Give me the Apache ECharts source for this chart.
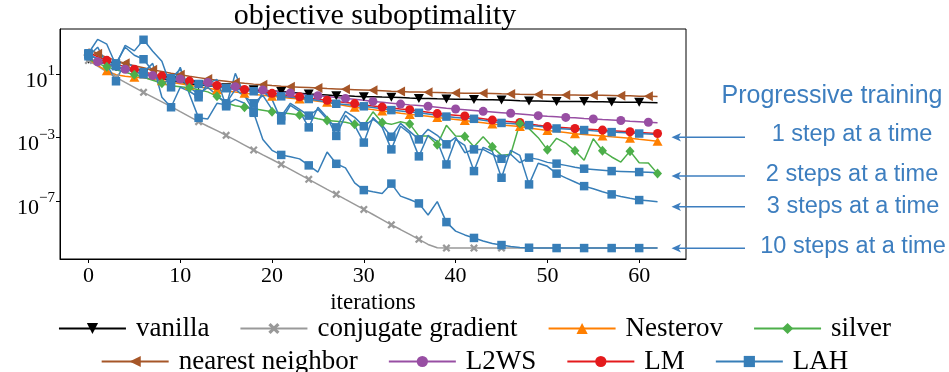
<!DOCTYPE html>
<html>
<head>
<meta charset="utf-8">
<script src="https://cdn.jsdelivr.net/npm/echarts@6/dist/echarts.min.js"></script>
<style>
html, body { margin: 0; padding: 0; background: #fff; }
#chart { width: 949px; height: 372px; }
</style>
</head>
<body>
<div id="chart"></div>
<script>
// log10 of the objective suboptimality, one value per iteration 0..62
const vanilla = [1.95,1.79,1.63,1.47,1.32,1.17,1.03,0.87,0.73,0.59,
  0.49,0.41,0.34,0.27,0.21,0.15,0.10,0.06,0.02,-0.02,
  -0.06,-0.09,-0.14,-0.19,-0.24,-0.28,-0.31,-0.35,-0.36,-0.39,
  -0.41,-0.42,-0.44,-0.45,-0.47,-0.50,-0.52,-0.53,-0.55,-0.56,
  -0.57,-0.58,-0.59,-0.61,-0.61,-0.62,-0.64,-0.67,-0.69,-0.69,
  -0.70,-0.71,-0.71,-0.72,-0.72,-0.73,-0.74,-0.75,-0.76,-0.76,
  -0.77,-0.78,-0.79];
const nearestNeighbor = [2.60,2.30,2.07,1.88,1.69,1.54,1.41,1.28,1.17,1.06,
  0.97,0.87,0.79,0.70,0.62,0.56,0.49,0.43,0.38,0.34,
  0.29,0.25,0.22,0.19,0.16,0.13,0.10,0.08,0.05,0.03,
  0.01,-0.01,-0.04,-0.07,-0.09,-0.11,-0.12,-0.14,-0.15,-0.17,
  -0.18,-0.19,-0.19,-0.20,-0.21,-0.23,-0.24,-0.26,-0.27,-0.28,
  -0.29,-0.30,-0.31,-0.31,-0.32,-0.33,-0.33,-0.34,-0.35,-0.36,
  -0.38,-0.39,-0.40];
const conjugateGradient = [1.87,1.51,1.16,0.81,0.49,0.18,-0.14,-0.44,-0.74,-1.04,
  -1.36,-1.67,-1.99,-2.28,-2.56,-2.85,-3.16,-3.47,-3.78,-4.09,
  -4.38,-4.69,-5.00,-5.32,-5.63,-5.95,-6.27,-6.58,-6.90,-7.21,
  -7.53,-7.85,-8.17,-8.50,-8.80,-9.11,-9.42,-9.74,-9.95,-9.97,
  -9.97,-9.97,-9.97,-9.97,-9.97,-9.97,-9.97,-9.97,-9.97,-9.97,
  -9.97,-9.97,-9.97,-9.97,-9.97,-9.97,-9.97,-9.97,-9.97,-9.97,
  -9.97,-9.97,-9.97];
const l2ws = [1.98,1.79,1.63,1.47,1.32,1.19,1.04,0.92,0.84,0.77,
  0.70,0.63,0.56,0.49,0.40,0.31,0.22,0.15,0.08,0.01,
  -0.06,-0.12,-0.18,-0.24,-0.30,-0.35,-0.40,-0.46,-0.52,-0.58,
  -0.64,-0.71,-0.76,-0.82,-0.88,-0.93,-0.97,-1.02,-1.08,-1.14,
  -1.19,-1.24,-1.29,-1.34,-1.38,-1.42,-1.46,-1.51,-1.56,-1.61,
  -1.65,-1.68,-1.72,-1.75,-1.79,-1.82,-1.86,-1.89,-1.92,-1.96,
  -1.99,-2.03,-2.06];
const nesterov = [1.95,1.57,1.22,0.97,0.87,0.82,0.78,0.68,0.59,0.49,
  0.40,0.31,0.21,0.12,0.03,-0.05,-0.12,-0.20,-0.26,-0.33,
  -0.39,-0.45,-0.51,-0.56,-0.63,-0.70,-0.77,-0.88,-0.98,-1.08,
  -1.16,-1.23,-1.31,-1.38,-1.46,-1.53,-1.59,-1.65,-1.72,-1.79,
  -1.85,-1.92,-1.99,-2.06,-2.14,-2.20,-2.25,-2.30,-2.39,-2.47,
  -2.55,-2.61,-2.68,-2.75,-2.80,-2.85,-2.90,-2.95,-2.99,-3.03,
  -3.10,-3.16,-3.23];
const lm = [2.39,2.11,1.88,1.66,1.47,1.32,1.16,1.01,0.89,0.78,
  0.67,0.57,0.48,0.38,0.29,0.20,0.12,0.04,-0.04,-0.12,
  -0.20,-0.28,-0.35,-0.42,-0.49,-0.57,-0.64,-0.71,-0.78,-0.85,
  -0.93,-1.00,-1.07,-1.13,-1.19,-1.24,-1.32,-1.40,-1.48,-1.53,
  -1.58,-1.63,-1.72,-1.80,-1.89,-1.94,-1.99,-2.04,-2.13,-2.22,
  -2.30,-2.34,-2.38,-2.42,-2.46,-2.49,-2.52,-2.56,-2.59,-2.63,
  -2.67,-2.70,-2.74];
const silver = [1.95,1.69,1.47,1.28,1.13,0.97,0.81,0.62,0.43,0.27,
  0.21,0.15,0.02,-0.11,-0.39,-0.80,-0.99,-1.08,-1.18,-1.27,
  -1.37,-1.43,-1.49,-1.57,-1.68,-1.81,-1.92,-1.97,-2.03,-2.16,
  -2.25,-1.37,-2.05,-2.16,-2.00,-2.13,-2.90,-2.90,-3.45,-2.22,
  -2.90,-2.92,-3.57,-2.94,-3.58,-4.12,-4.05,-2.10,-2.43,-3.00,
  -3.77,-3.04,-3.34,-3.83,-4.43,-3.07,-3.83,-4.22,-4.54,-3.85,
  -4.58,-4.60,-5.27];
// LAH, progressive training with 1, 2, 3 and 10 steps at a time
const lah1 = [2.26,1.98,1.73,1.51,1.32,1.16,1.00,0.87,0.76,0.65,
  0.56,0.47,0.39,0.29,0.20,0.12,0.05,-0.01,-0.07,-0.18,
  -0.29,-0.39,-0.45,-0.50,-0.56,-0.66,-0.76,-0.86,-0.91,-0.97,
  -1.02,-1.10,-1.18,-1.26,-1.31,-1.38,-1.43,-1.51,-1.59,-1.67,
  -1.72,-1.77,-1.81,-1.90,-1.98,-2.07,-2.11,-2.16,-2.21,-2.28,
  -2.35,-2.42,-2.45,-2.49,-2.52,-2.57,-2.61,-2.65,-2.68,-2.71,
  -2.74,-2.77,-2.80];
const lah2 = [2.26,1.95,1.82,1.69,2.71,2.20,1.95,1.19,0.37,0.75,
  1.32,0.18,-0.26,0.18,-0.33,-0.83,0.05,-0.39,-0.83,-0.33,
  -1.21,-1.65,-0.83,-1.21,-1.61,-1.21,-1.84,-2.35,-1.34,-1.72,
  -2.28,-1.84,-2.22,-2.94,-2.10,-2.60,-3.11,-2.47,-2.85,-3.42,
  -2.98,-3.95,-3.74,-3.74,-4.05,-4.33,-4.05,-4.58,-4.26,-4.37,
  -4.56,-4.64,-4.75,-4.87,-4.96,-5.01,-5.06,-5.11,-5.13,-5.15,
  -5.17,-5.19,-5.21];
const lah3 = [2.14,2.71,1.63,0.56,1.82,1.44,1.13,1.69,-0.45,-1.08,
  0.18,-0.07,-0.45,0.43,0.68,-1.02,1.06,-0.33,-1.34,-0.07,
  -0.58,-1.91,-0.96,-1.34,-2.35,-1.08,-1.72,-2.89,-1.59,-2.22,
  -3.31,-1.72,-2.35,-3.74,-2.28,-2.73,-4.18,-2.85,-3.23,-4.69,
  -3.11,-3.49,-5.11,-3.61,-3.86,-5.53,-3.80,-4.12,-5.95,-4.62,
  -4.81,-5.27,-5.54,-5.80,-6.06,-6.23,-6.41,-6.58,-6.71,-6.83,
  -6.94,-6.99,-7.04];
const lah10 = [2.33,3.21,2.90,1.57,2.83,2.48,3.18,2.45,1.82,0.18,
  1.44,-0.26,-1.75,-1.82,-0.83,-0.93,-0.58,-0.83,-1.43,-3.11,
  -3.80,-4.09,-4.21,-4.34,-4.75,-5.17,-3.91,-4.65,-4.91,-5.85,
  -6.31,-6.42,-6.52,-5.90,-6.69,-6.90,-7.15,-7.88,-7.04,-8.33,
  -8.90,-9.14,-9.33,-9.52,-9.68,-9.78,-9.87,-9.93,-9.95,-9.96,
  -9.97,-9.97,-9.97,-9.97,-9.97,-9.97,-9.97,-9.97,-9.97,-9.97,
  -9.97,-9.97,-9.97];

const xTicks = [0, 10, 20, 30, 40, 50, 60];
const yTicks = [1e-7, 1e-3, 1e1];
const legendRow1 = ['vanilla', 'conjugate gradient', 'Nesterov', 'silver'];
const legendRow2 = ['nearest neighbor', 'L2WS', 'LM', 'LAH'];
const notes = ['Progressive training', '1 step at a time', '2 steps at a time', '3 steps at a time', '10 steps at a time'];

const serif = "'Liberation Serif', 'Times New Roman', serif";
const sans = "'Liberation Sans', Arial, sans-serif";
const noteBlue = '#3d7ebf';
const xMark = 'path://M2,0 L5,3 L8,0 L10,2 L7,5 L10,8 L8,10 L5,7 L2,10 L0,8 L3,5 L0,2 Z';

// markers every third iteration, shifted per method
function lineSeries(name, values, color, symbol, size, rotate, offset) {
  return {
    name: name,
    type: 'line',
    data: values.map((v, i) => i % 3 === offset
      ? [i, Math.pow(10, v)]
      : { value: [i, Math.pow(10, v)], symbol: 'none' }),
    symbol: symbol,
    symbolSize: size,
    symbolRotate: rotate,
    showAllSymbol: true,
    lineStyle: { color: color, width: 1.5 },
    itemStyle: { color: color },
    emphasis: { disabled: true },
    animation: false
  };
}

const chart = echarts.init(document.getElementById('chart'));

const notePos = [[832, 96], [852, 135], [852, 175], [853, 207], [853, 247]];
const arrowY = [137.3, 176, 206.7, 248.3];
const graphics = notes.map((t, k) => ({
  type: 'text', x: notePos[k][0], y: notePos[k][1],
  style: { text: t, fill: noteBlue, font: (k === 0 ? 25 : 23.5) + 'px ' + sans, align: 'center', verticalAlign: 'middle' }
}));
arrowY.forEach(y => {
  graphics.push({ type: 'line', shape: { x1: 678, y1: y, x2: 745, y2: y }, style: { stroke: noteBlue, lineWidth: 1.5 } });
  graphics.push({ type: 'polygon', shape: { points: [[671.5, y], [681, y - 4.2], [678.5, y], [681, y + 4.2]] }, style: { fill: noteBlue } });
});

const legendBase = {
  left: 'center', itemWidth: 67, itemHeight: 14, itemGap: 30,
  textStyle: { fontFamily: serif, fontSize: 27, color: '#000', padding: [0, 0, 0, 5] },
  selectedMode: false
};

chart.setOption({
  animation: false,
  title: {
    text: 'objective suboptimality', left: 370, top: -4, textAlign: 'center',
    textStyle: { fontFamily: serif, fontSize: 30, fontWeight: 'normal', color: '#000' }
  },
  grid: { left: 60, right: 263, top: 29, bottom: 113, show: true, borderColor: '#000', borderWidth: 1 },
  legend: [
    Object.assign({}, legendBase, { data: legendRow1, top: 310 }),
    Object.assign({}, legendBase, { data: legendRow2, top: 343 })
  ],
  xAxis: {
    type: 'value', min: -3.1, max: 65.1,
    name: 'iterations', nameLocation: 'middle', nameGap: 29,
    nameTextStyle: { fontFamily: serif, fontSize: 23, color: '#000' },
    axisLine: { onZero: false, lineStyle: { color: '#000', width: 1 } },
    axisTick: { customValues: xTicks, length: 4, lineStyle: { color: '#000' } },
    axisLabel: { customValues: xTicks, fontFamily: serif, fontSize: 22, color: '#000', margin: 6 },
    splitLine: { show: false }
  },
  yAxis: {
    type: 'log', logBase: 10, min: Math.pow(10, -10.66), max: Math.pow(10, 3.86),
    axisLine: { show: true, onZero: false, lineStyle: { color: '#000', width: 1 } },
    axisTick: { show: true, customValues: yTicks, length: 4, lineStyle: { color: '#000' } },
    axisLabel: {
      customValues: yTicks, fontFamily: serif, fontSize: 22, color: '#000', margin: 5,
      padding: [14, 0, 0, 0],
      formatter: v => '10{e|' + String(Math.round(Math.log10(v))).replace('-', '\u2212') + '}',
      rich: { e: { fontFamily: serif, fontSize: 15, verticalAlign: 'bottom', padding: [0, 0, 20, 0] } }
    },
    splitLine: { show: false },
    minorTick: { show: false }
  },
  graphic: graphics,
  series: [
    lineSeries('vanilla', vanilla, '#000000', 'triangle', [10, 9], 180, 0),
    lineSeries('nearest neighbor', nearestNeighbor, '#a65628', 'triangle', [10, 9], 90, 1),
    lineSeries('conjugate gradient', conjugateGradient, '#999999', xMark, 8, 0, 0),
    lineSeries('L2WS', l2ws, '#984ea3', 'circle', 9, 0, 1),
    lineSeries('Nesterov', nesterov, '#ff7f00', 'triangle', [10, 9], 0, 2),
    lineSeries('LM', lm, '#e41a1c', 'circle', 9, 0, 2),
    lineSeries('silver', silver, '#4daf4a', 'diamond', [9, 10], 0, 2),
    lineSeries('LAH', lah1, '#377eb8', 'rect', 8.5, 0, 0),
    lineSeries('LAH', lah2, '#377eb8', 'rect', 8.5, 0, 0),
    lineSeries('LAH', lah3, '#377eb8', 'rect', 8.5, 0, 0),
    lineSeries('LAH', lah10, '#377eb8', 'rect', 8.5, 0, 0)
  ]
});
</script>
</body>
</html>
